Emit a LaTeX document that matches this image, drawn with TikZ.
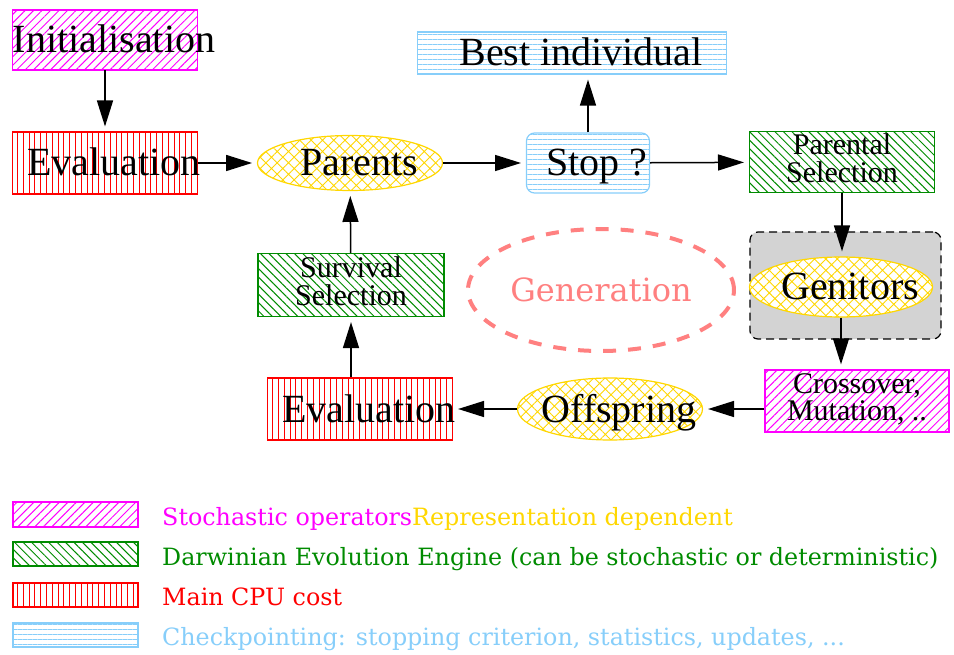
\documentclass[tikz,border=0pt]{standalone}
\usepackage{fontspec}
\setmainfont{Liberation Serif}
\newfontfamily\legendfont{DejaVu Serif}
\usetikzlibrary{arrows.meta, patterns.meta, shapes.geometric, positioning}

\definecolor{stochcol}{RGB}{255,0,255}
\definecolor{darwincol}{RGB}{0,139,0}
\definecolor{cpucol}{RGB}{255,0,0}
\definecolor{checkcol}{RGB}{135,206,250}
\definecolor{reprcol}{RGB}{255,215,0}
\definecolor{gencol}{RGB}{255,128,128}
\definecolor{clustcol}{RGB}{211,211,211}

\newcommand{\lbl}[1]{\makebox[0pt]{\hspace{18pt}#1}}
\newcommand{\twolines}[2]{\makebox[0pt]{\begin{tabular}{@{}c@{}}#1\\#2\end{tabular}}}

\begin{document}
\begin{tikzpicture}[x=1pt, y=-1pt,
  box/.style={draw, line width=1.2pt, minimum width=185pt, minimum height=61pt, inner sep=0pt},
  oval/.style={ellipse, draw=reprcol, line width=1.2pt, preaction={fill=white},
    pattern={Hatch[angle=45,distance=8pt,line width=0.9pt]}, pattern color=reprcol,
    minimum width=185pt, minimum height=58pt, inner sep=0pt},
  stoch/.style={box, draw=stochcol, pattern={Lines[angle=45,distance=6pt,line width=1pt]}, pattern color=stochcol},
  darwin/.style={box, draw=darwincol, pattern={Lines[angle=-45,distance=6pt,line width=1pt]}, pattern color=darwincol},
  cpu/.style={box, draw=cpucol, pattern={Lines[angle=90,distance=5.8pt,line width=1pt]}, pattern color=cpucol},
  check/.style={box, draw=checkcol, pattern={Lines[angle=0,distance=5pt,line width=1pt]}, pattern color=checkcol},
  big/.style={font=\fontsize{40}{44}\selectfont, text height=28pt, text depth=2pt},
  small/.style={font=\fontsize{30}{25}\selectfont},
  flow/.style={-{Triangle[length=26pt,width=16pt]}, line width=1.5pt, shorten >=5pt},
  keybox/.style={minimum width=125pt, minimum height=24pt},
  keytext/.style={anchor=base west, inner sep=0pt, font=\legendfont\fontsize{23.8}{27}\selectfont}
]
\useasboundingbox (0,0) rectangle (954,655);

% generation loop
\node at (601,290) (gen) [ellipse, draw=gencol, line width=4pt, dash pattern=on 13pt off 12pt,
  minimum width=250pt, minimum height=122pt, text=gencol,
  font=\legendfont\fontsize{32}{36}\selectfont] {Generation};

\node at (845.5,285.5) (cluster) [draw, fill=clustcol, dash pattern=on 8pt off 5pt, line width=1.2pt,
  rounded corners=8pt, minimum width=191pt, minimum height=107pt] {};

\node at (105,40) (init) [stoch, minimum height=60pt, big] {\lbl{Initialisation}};
\node at (105,163) (evaltop) [cpu, minimum height=62pt, big] {\lbl{Evaluation}};
\node at (350,163) (parents) [oval, minimum height=55pt, big] {\lbl{Parents}};
\node at (588,163) (stop) [check, rounded corners=8pt, minimum width=123pt, minimum height=60pt, big] {\lbl{Stop ?}};
\node at (572,53) (best) [check, minimum width=309pt, minimum height=42pt, big] {\lbl{Best individual}};
\node at (842,162) (parsel) [darwin, small] {\twolines{Parental}{Selection}};
\node at (841,287) (genitors) [oval, minimum width=183pt, minimum height=60pt, big] {\lbl{Genitors}};
\node at (857,401) (cross) [stoch, minimum width=184pt, minimum height=62pt, small] {\twolines{Crossover,}{Mutation, ..}};
\node at (610,409) (offspring) [oval, minimum height=62pt, big] {\lbl{Offspring}};
\node at (360,409) (evalbot) [cpu, minimum height=62pt, big] {\lbl{Evaluation}};
\node at (351,285) (survsel) [darwin, minimum width=186pt, minimum height=63pt, small] {\twolines{Survival}{Selection}};

\draw[flow] (init) -- (evaltop);
\draw[flow] (evaltop) -- (parents);
\draw[flow] (parents) -- (stop);
\draw[flow] (stop) -- (stop |- best.south);
\draw[flow] (stop) -- (parsel);
\draw[flow] (parsel) -- (parsel |- genitors.north);
\draw[flow] (genitors) -- (genitors |- cross.north);
\draw[flow] (cross.west |- offspring) -- (offspring);
\draw[flow] (offspring) -- (evalbot);
\draw[flow] (survsel |- evalbot.north) -- (survsel);
\draw[flow] (survsel) -- (parents);

% legend
\node at (75.5,514.5) (keystoch) [stoch, keybox, minimum height=25pt] {};
\node at (75.5,554) (keydarwin) [darwin, keybox] {};
\node at (75.5,595) (keycpu) [cpu, keybox] {};
\node at (75.5,635) (keycheck) [check, keybox] {};

\node at (162,525) (txtstoch) [keytext] {\textcolor{stochcol}{Stochastic operators}\textcolor{reprcol}{Representation dependent}};
\node at (162,565) (txtdarwin) [keytext, text=darwincol] {Darwinian Evolution Engine (can be stochastic or deterministic)};
\node at (162,605) (txtcpu) [keytext, text=cpucol] {Main CPU cost};
\node at (162,645) (txtcheck) [keytext, text=checkcol] {Checkpointing: stopping criterion, statistics, updates, ...};
\end{tikzpicture}
\end{document}
